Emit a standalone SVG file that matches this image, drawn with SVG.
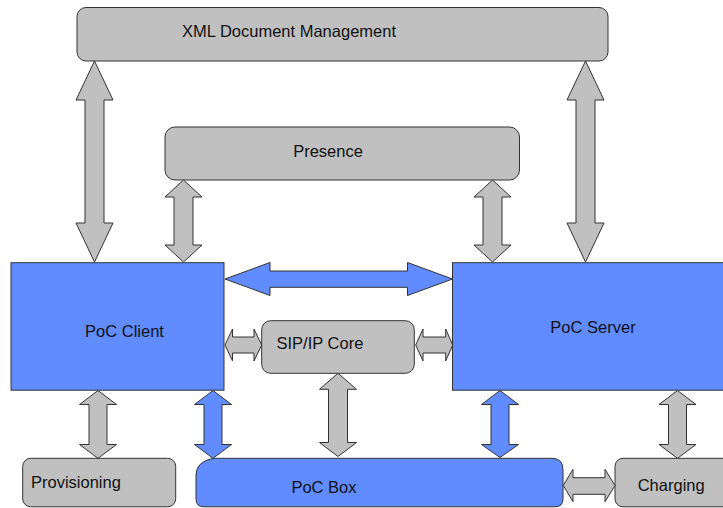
<svg xmlns="http://www.w3.org/2000/svg" width="723" height="508" viewBox="0 0 723 508">
<style>
.g{fill:#c0c0c0;stroke:#333;stroke-width:1}
.b{fill:#608cff;stroke:#333;stroke-width:1}
.t{font-family:"Liberation Sans",Arial,sans-serif;font-size:16.5px;fill:#111}
.m{text-anchor:middle}
</style>
<rect width="723" height="508" fill="#fff"/>
<g id="xdm"><rect class="g" x="77" y="7.5" width="531" height="53.5" rx="9"/><text class="t" x="182" y="37">XML Document Management</text></g>
<g id="presence"><rect class="g" x="165" y="127" width="354.5" height="53" rx="10"/><text class="t m" x="328" y="156.5">Presence</text></g>
<g id="pocclient"><rect class="b" x="11" y="262.7" width="213" height="127.5"/><text class="t m" x="124.5" y="337">PoC Client</text></g>
<g id="pocserver"><rect class="b" x="452.5" y="262.7" width="280" height="127.5"/><text class="t m" x="593" y="333">PoC Server</text></g>
<g id="sipcore"><rect class="g" x="261.7" y="320.7" width="152.6" height="52.6" rx="9"/><text class="t" x="276.5" y="348.5">SIP/IP Core</text></g>
<g id="provisioning"><rect class="g" x="22.7" y="458.3" width="153" height="48.5" rx="8"/><text class="t" x="31" y="488">Provisioning</text></g>
<g id="pocbox"><path class="b" d="M196,475 Q196,462 213,458.3 L552,458.3 Q563,458.3 563,470 L563,499 Q563,506.8 555,506.8 L204,506.8 Q196,506.8 196,499 Z"/><text class="t m" x="324" y="493">PoC Box</text></g>
<g id="charging"><rect class="g" x="615" y="458.3" width="120" height="48.5" rx="8"/><text class="t" x="637.7" y="491">Charging</text></g>
<g id="connectors">
<polygon class="g" points="94.5,61 113,100 104,100 104,223 113,223 94.5,262 76,223 85,223 85,100 76,100"/>
<polygon class="g" points="585.5,61 604,100 595,100 595,223 604,223 585.5,262 567,223 576,223 576,100 567,100"/>
<polygon class="g" points="183.5,180 202,197 193,197 193,245 202,245 183.5,262 165,245 174,245 174,197 165,197"/>
<polygon class="g" points="492.5,180 511,197 502,197 502,245 511,245 492.5,262 474,245 483,245 483,197 474,197"/>
<polygon class="b" points="225,279 270,262.5 270,271 407.5,271 407.5,262.5 452.5,279 407.5,295.5 407.5,287.3 270,287.3 270,295.5"/>
<polygon class="g" points="225,345 232.5,329 232.5,337 254,337 254,329 261.7,345 254,361 254,353 232.5,353 232.5,361"/>
<polygon class="g" points="415.7,345 423,329 423,337 445.7,337 445.7,329 452.7,345 445.7,361 445.7,353 423,353 423,361"/>
<polygon class="g" points="98,390.5 116.5,404.5 107,404.5 107,444.5 116.5,444.5 98,458.3 79.5,444.5 89,444.5 89,404.5 79.5,404.5"/>
<polygon class="b" points="213,390.5 231.5,404.5 222,404.5 222,444.5 231.5,444.5 213,458.3 194.5,444.5 204,444.5 204,404.5 194.5,404.5"/>
<polygon class="b" points="500,390.5 518.5,404.5 509,404.5 509,444.5 518.5,444.5 500,457.5 481.5,444.5 491,444.5 491,404.5 481.5,404.5"/>
<polygon class="g" points="677.5,390.5 696,404.5 686.5,404.5 686.5,444.5 696,444.5 677.5,458.3 659,444.5 668.5,444.5 668.5,404.5 659,404.5"/>
<polygon class="g" points="338,373.3 356.5,389.3 347.5,389.3 347.5,442.5 356.5,442.5 338,456.5 319.5,442.5 328.5,442.5 328.5,389.3 319.5,389.3"/>
<polygon class="g" points="563.3,485.5 573,469.3 573,477.7 605,477.7 605,469.3 615,485.5 605,501.7 605,494.3 573,494.3 573,501.7"/>
</g>
</svg>
